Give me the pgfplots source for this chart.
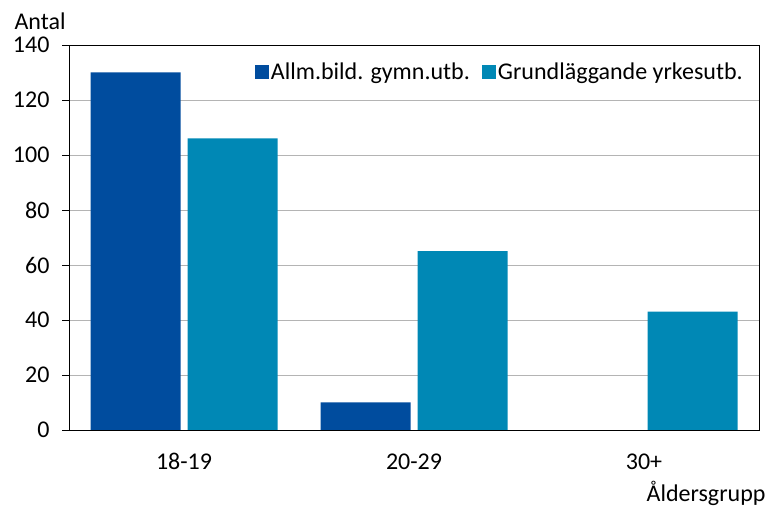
\documentclass[border=0pt]{standalone}
\usepackage{pgfplots}
\pgfplotsset{compat=1.18}
\usepackage{fontspec}
\setmainfont{Carlito}
\definecolor{darkb}{HTML}{004C9E}
\definecolor{lightb}{HTML}{0088B5}
\definecolor{gridc}{HTML}{B4B4B4}
\begin{document}
\begin{tikzpicture}
\useasboundingbox (0,0) rectangle (770pt,508pt);
\begin{axis}[
  at={(69pt,78pt)}, anchor=south west,
  scale only axis, width=690pt, height=385pt,
  font=\fontsize{24}{28}\selectfont,
  /pgf/number format/assume math mode=true,
  ybar=7pt, bar width=90pt,
  xmin=-0.5, xmax=2.5, ymin=0, ymax=140,
  xtick={0,1,2}, xticklabels={18-19,20-29,30+},
  ytick={0,20,...,140},
  major x tick style={draw=none},
  y tick style={black, line width=0.8pt},
  tick align=outside, major tick length=7pt,
  xtick pos=bottom, ytick pos=left,
  ymajorgrids, grid style={gridc, line width=0.8pt},
  axis line style={black, line width=0.8pt},
  yticklabel style={xshift=-9pt, anchor=east},
  xticklabel style={yshift=-13pt},
  legend style={draw=none, fill=none, at={(0.984,0.965)}, anchor=north east,
    legend columns=2, /tikz/every even column/.append style={column sep=10pt},
    font=\fontsize{24}{28}\selectfont},
  legend image code/.code={\fill[#1] (0pt,-7pt) rectangle (14pt,7pt);},
]
\addplot[fill=darkb, draw=none] coordinates {(0,130) (1,10)};
\addplot[fill=lightb, draw=none] coordinates {(0,106) (1,65) (2,43)};
\legend{Allm.bild. gymn.utb., Grundläggande yrkesutb.}
\end{axis}
\node[anchor=west, font=\fontsize{24}{28}\selectfont] at (11pt,487pt) {Antal};
\node[anchor=east, font=\fontsize{24}{28}\selectfont] at (769pt,15pt) {Åldersgrupp};
\end{tikzpicture}
\end{document}
